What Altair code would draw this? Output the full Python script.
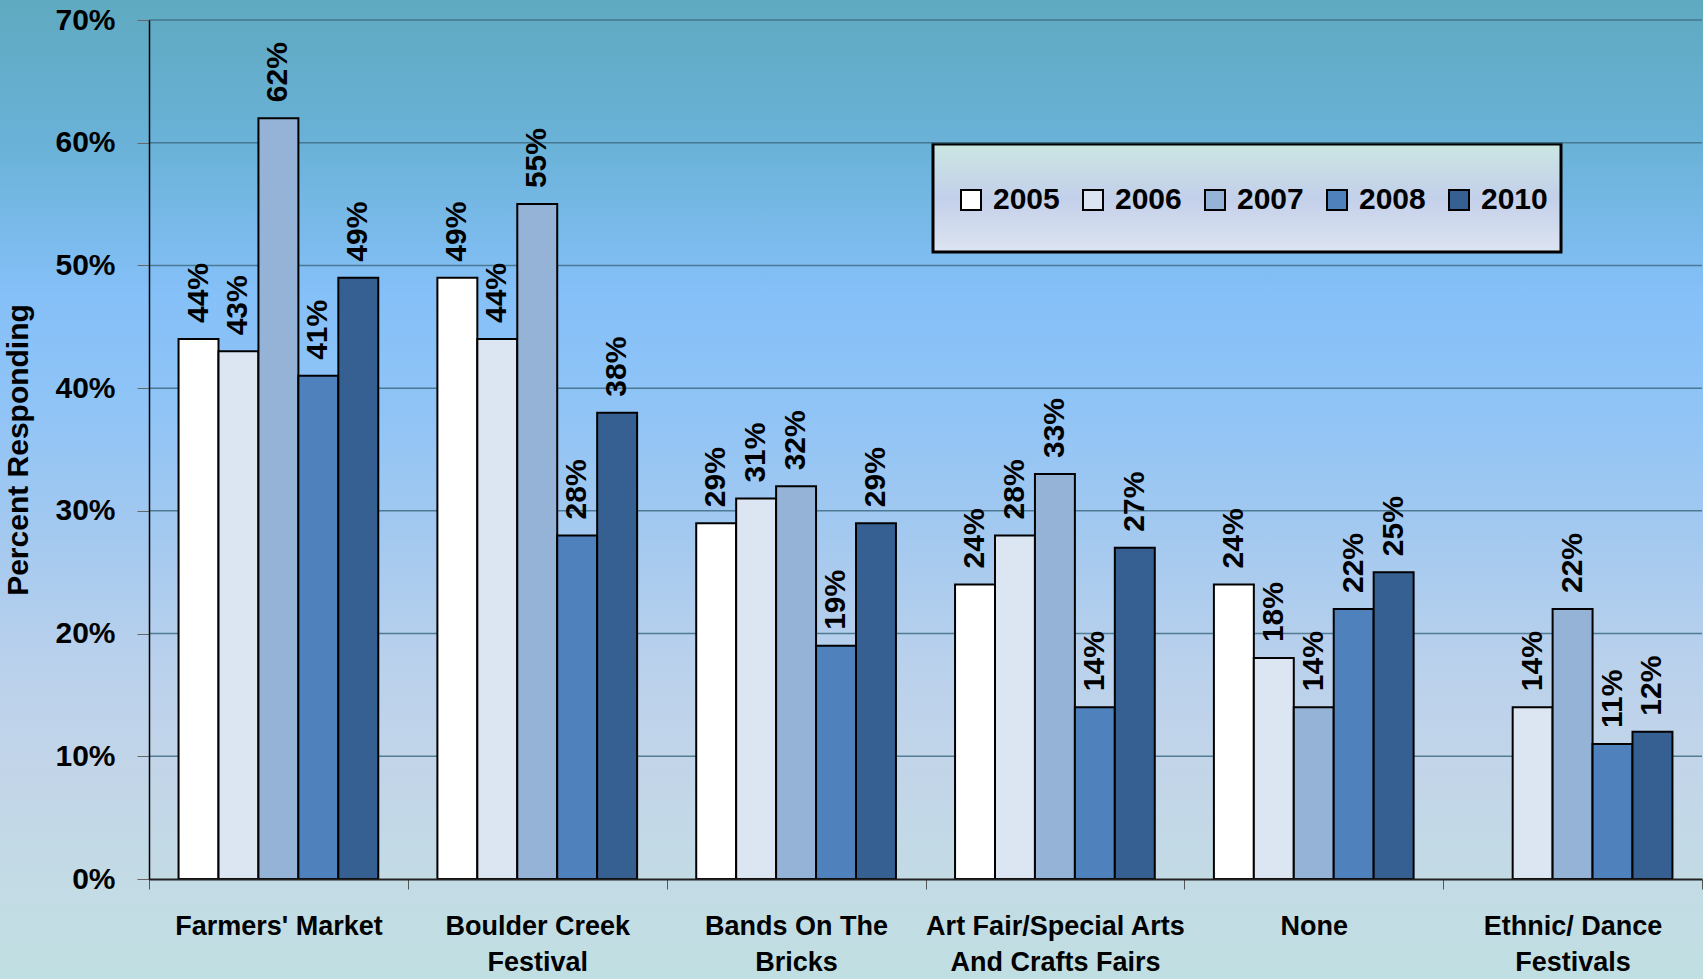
import altair as alt
import pandas as pd

categories = ["Farmers' Market", "Boulder Creek|Festival", "Bands On The|Bricks",
              "Art Fair/Special Arts|And Crafts Fairs", "None", "Ethnic/ Dance|Festivals"]
years = ["2005", "2006", "2007", "2008", "2010"]
colors = ["#ffffff", "#dce6f2", "#95b3d7", "#4f81bd", "#366092"]

v2005 = [44, 49, 29, 24, 24, None]
v2006 = [43, 44, 31, 28, 18, 14]
v2007 = [62, 55, 32, 33, 14, 22]
v2008 = [41, 28, 19, 14, 22, 11]
v2010 = [49, 38, 29, 27, 25, 12]
grid_values = [10, 20, 30, 40, 50, 60, 70]
y_ticks = [0, 10, 20, 30, 40, 50, 60, 70]

series = [v2005, v2006, v2007, v2008, v2010]
rows = []
for yr, vals in zip(years, series):
    for c, v in zip(categories, vals):
        if v is not None:
            rows.append({"category": c, "year": yr, "value": v, "label": f"{v}%"})
df = pd.DataFrame(rows)
grid_df = pd.DataFrame({"value": grid_values})

FONT = "Liberation Sans, Arial, sans-serif"
W, H = 1553, 859
PL, PT, PR, PB = 149, 20, 1, 100

bg = alt.Chart(pd.DataFrame({"a": [0]})).mark_rect(
    fill=alt.LinearGradient(
        gradient="linear", x1=0, y1=0, x2=0, y2=1,
        stops=[
            alt.GradientStop(offset=0.0, color="#5fa9c0"),
            alt.GradientStop(offset=0.15, color="#6ab2d8"),
            alt.GradientStop(offset=0.30, color="#85c0f8"),
            alt.GradientStop(offset=0.42, color="#90c4f6"),
            alt.GradientStop(offset=0.55, color="#a4c9ef"),
            alt.GradientStop(offset=0.68, color="#bad1ec"),
            alt.GradientStop(offset=0.78, color="#c2d5e9"),
            alt.GradientStop(offset=0.90, color="#c3dbe5"),
            alt.GradientStop(offset=1.0, color="#c0dfe2"),
        ],
    ),
    strokeWidth=0,
).encode(x=alt.value(-PL), x2=alt.value(W + PR), y=alt.value(-PT), y2=alt.value(H + PB))

legend_box = alt.Chart(pd.DataFrame({"a": [0]})).mark_rect(
    fill=alt.LinearGradient(
        gradient="linear", x1=0, y1=0, x2=0, y2=1,
        stops=[
            alt.GradientStop(offset=0.0, color="#cbe6e2"),
            alt.GradientStop(offset=0.5, color="#c3d0ea"),
            alt.GradientStop(offset=1.0, color="#dde4f1"),
        ],
    ),
    stroke="black", strokeWidth=3,
).encode(x=alt.value(784), x2=alt.value(1412), y=alt.value(124), y2=alt.value(232))

yscale = alt.Scale(domain=[0, 70], nice=False)
yaxis = alt.Axis(title="Percent Responding", values=y_ticks,
                 labelExpr="datum.value + '%'", labelFont=FONT, labelFontSize=30,
                 labelFontWeight="bold", labelColor="black", labelPadding=22,
                 tickSize=12, tickColor="#666666", domainColor="black", domainWidth=1.5,
                 grid=False, zindex=1,
                 titleFont=FONT, titleFontSize=30, titleFontWeight="bold", titleColor="black",
                 titleAngle=270, titleX=-131, titleY=H / 2, titleBaseline="middle",
                 titleAlign="center")

grid = alt.Chart(grid_df).mark_rule(color="#3f6d82", strokeWidth=1.5, opacity=0.85).encode(
    y=alt.Y("value:Q", scale=yscale, axis=yaxis)
)

xenc = alt.X("category:N", sort=categories, scale=alt.Scale(paddingInner=0, paddingOuter=0),
             axis=alt.Axis(title=None, labelExpr="split(datum.label, '|')", labelAngle=0,
                           labelFont=FONT, labelFontSize=27, labelFontWeight="bold",
                           labelColor="black", labelPadding=24, labelLineHeight=36,
                           labelLimit=0,
                           tickBand="extent", tickSize=10, tickColor="#555555",
                           domainColor="#222222", domainWidth=2, grid=False, zindex=1))
xoff = alt.XOffset("year:N", sort=years, scale=alt.Scale(paddingOuter=0.74, paddingInner=0))

bars = alt.Chart(df).mark_bar(stroke="black", strokeWidth=2).encode(
    x=xenc,
    xOffset=xoff,
    y=alt.Y("value:Q", scale=yscale, axis=yaxis),
    color=alt.Color("year:N", sort=years, scale=alt.Scale(domain=years, range=colors),
                    legend=alt.Legend(title=None, orient="none", legendX=807, legendY=165,
                                      direction="horizontal", columns=5, symbolType="square",
                                      symbolSize=400, symbolStrokeColor="black",
                                      symbolStrokeWidth=2, labelFont=FONT, labelFontSize=30,
                                      labelFontWeight="bold", labelColor="black", labelOffset=7,
                                      columnPadding=18, padding=0, symbolOpacity=1,
                                      labelLimit=0)),
)

labels = alt.Chart(df).mark_text(angle=270, align="left", baseline="middle", dx=16,
                                 font=FONT, fontSize=30, fontWeight="bold", color="black").encode(
    x=alt.X("category:N", sort=categories),
    xOffset=alt.XOffset("year:N", sort=years),
    y=alt.Y("value:Q", scale=yscale),
    text="label:N",
)

chart = alt.layer(bg, legend_box, grid, bars, labels).properties(
    width=W, height=H,
    autosize=alt.AutoSizeParams(type="none"),
    padding={"left": PL, "top": PT, "right": PR, "bottom": PB},
).configure_view(stroke=None).configure(background="#9cc6ee")

chart.save("out.html", embed_options={"renderer": "svg", "actions": False})
